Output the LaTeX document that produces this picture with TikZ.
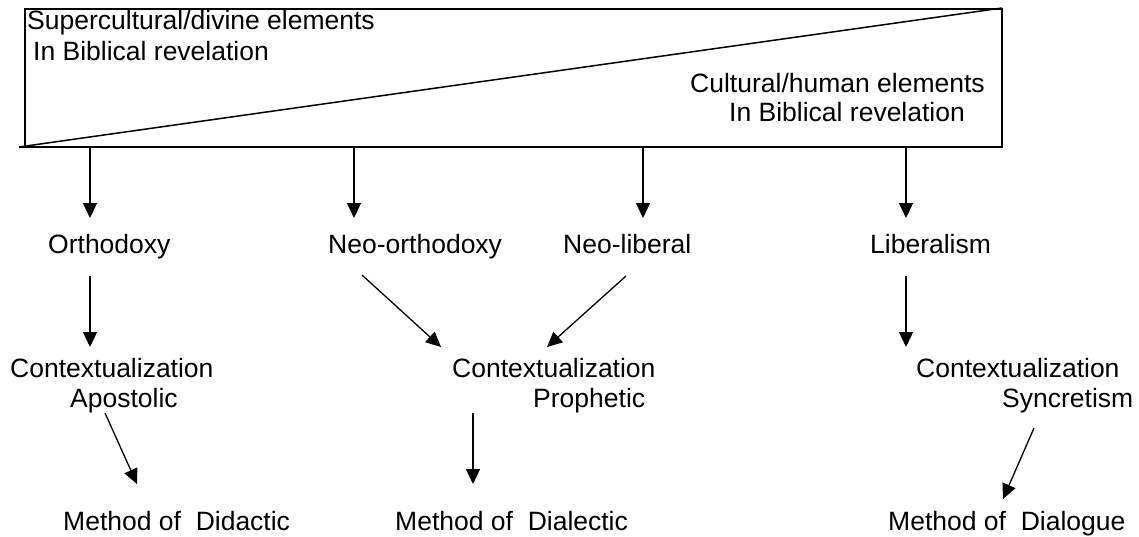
\documentclass[tikz,border=0pt]{standalone}
\usepackage{fontspec}
\setmainfont{Liberation Sans}
\usetikzlibrary{arrows.meta}
\begin{document}
\begin{tikzpicture}[x=1pt,y=-1pt,
  txt/.style={anchor=base west,inner sep=0pt,font=\fontsize{26.5}{30}\selectfont},
  arr/.style={line width=1.3pt,-{Triangle[width=14pt,length=15pt]}},
  boxline/.style={line width=1.5pt}]
\useasboundingbox (0,0) rectangle (1139,536);
% top box
\draw[boxline] (25,9) rectangle (1002,147);
\coordinate (bl) at (19,147);
\coordinate (br) at (1002,8);
\draw[boxline] (bl) -- (25,147);
\draw[boxline] (bl) -- (br);
\node[txt] (sup1) at (27,29) {Supercultural/divine elements};
\node[txt] (sup2) at (33,60) {In Biblical revelation};
\node[txt] (cul1) at (690,92) {Cultural/human elements};
\node[txt] (cul2) at (729,121) {In Biblical revelation};
% second row
\node[txt] (ortho) at (48,253) {Orthodoxy};
\node[txt] (neoortho) at (328,253) {Neo-orthodoxy};
\node[txt] (neolib) at (563,253) {Neo-liberal};
\node[txt] (lib) at (870,253) {Liberalism};
% third row
\node[txt] (ctxA1) at (10,377) {Contextualization};
\node[txt] (ctxA2) at (70,407) {Apostolic};
\node[txt] (ctxP1) at (452,377) {Contextualization};
\node[txt] (ctxP2) at (533,407) {Prophetic};
\node[txt] (ctxS1) at (916,377) {Contextualization};
\node[txt] (ctxS2) at (1002,407) {Syncretism};
% fourth row
\node[txt] (did) at (63,530) {Method of\ \ Didactic};
\node[txt] (dia) at (395,530) {Method of\ \ Dialectic};
\node[txt] (dlg) at (888,530) {Method of\ \ Dialogue};
% arrow coordinates
\coordinate (s1) at (90,147);   \coordinate (t1) at (90,218);
\coordinate (s2) at (354,147);  \coordinate (t2) at (354,218);
\coordinate (s3) at (643,147);  \coordinate (t3) at (643,218);
\coordinate (s4) at (906,147);  \coordinate (t4) at (906,218);
\coordinate (u1) at (90,276);   \coordinate (v1) at (90,347);
\coordinate (u2) at (362,275);  \coordinate (v2) at (441,347);
\coordinate (u3) at (626,276);  \coordinate (v3) at (547,347);
\coordinate (u4) at (906,276);  \coordinate (v4) at (906,347);
\coordinate (w1) at (105,413);  \coordinate (z1) at (137,484);
\coordinate (w2) at (473,413);  \coordinate (z2) at (473,484);
\coordinate (w3) at (1034,428); \coordinate (z3) at (1003,499);
\draw[arr] (s1) -- (t1);
\draw[arr] (s2) -- (t2);
\draw[arr] (s3) -- (t3);
\draw[arr] (s4) -- (t4);
\draw[arr] (u1) -- (v1);
\draw[arr] (u2) -- (v2);
\draw[arr] (u3) -- (v3);
\draw[arr] (u4) -- (v4);
\draw[arr] (w1) -- (z1);
\draw[arr] (w2) -- (z2);
\draw[arr] (w3) -- (z3);
\end{tikzpicture}
\end{document}
